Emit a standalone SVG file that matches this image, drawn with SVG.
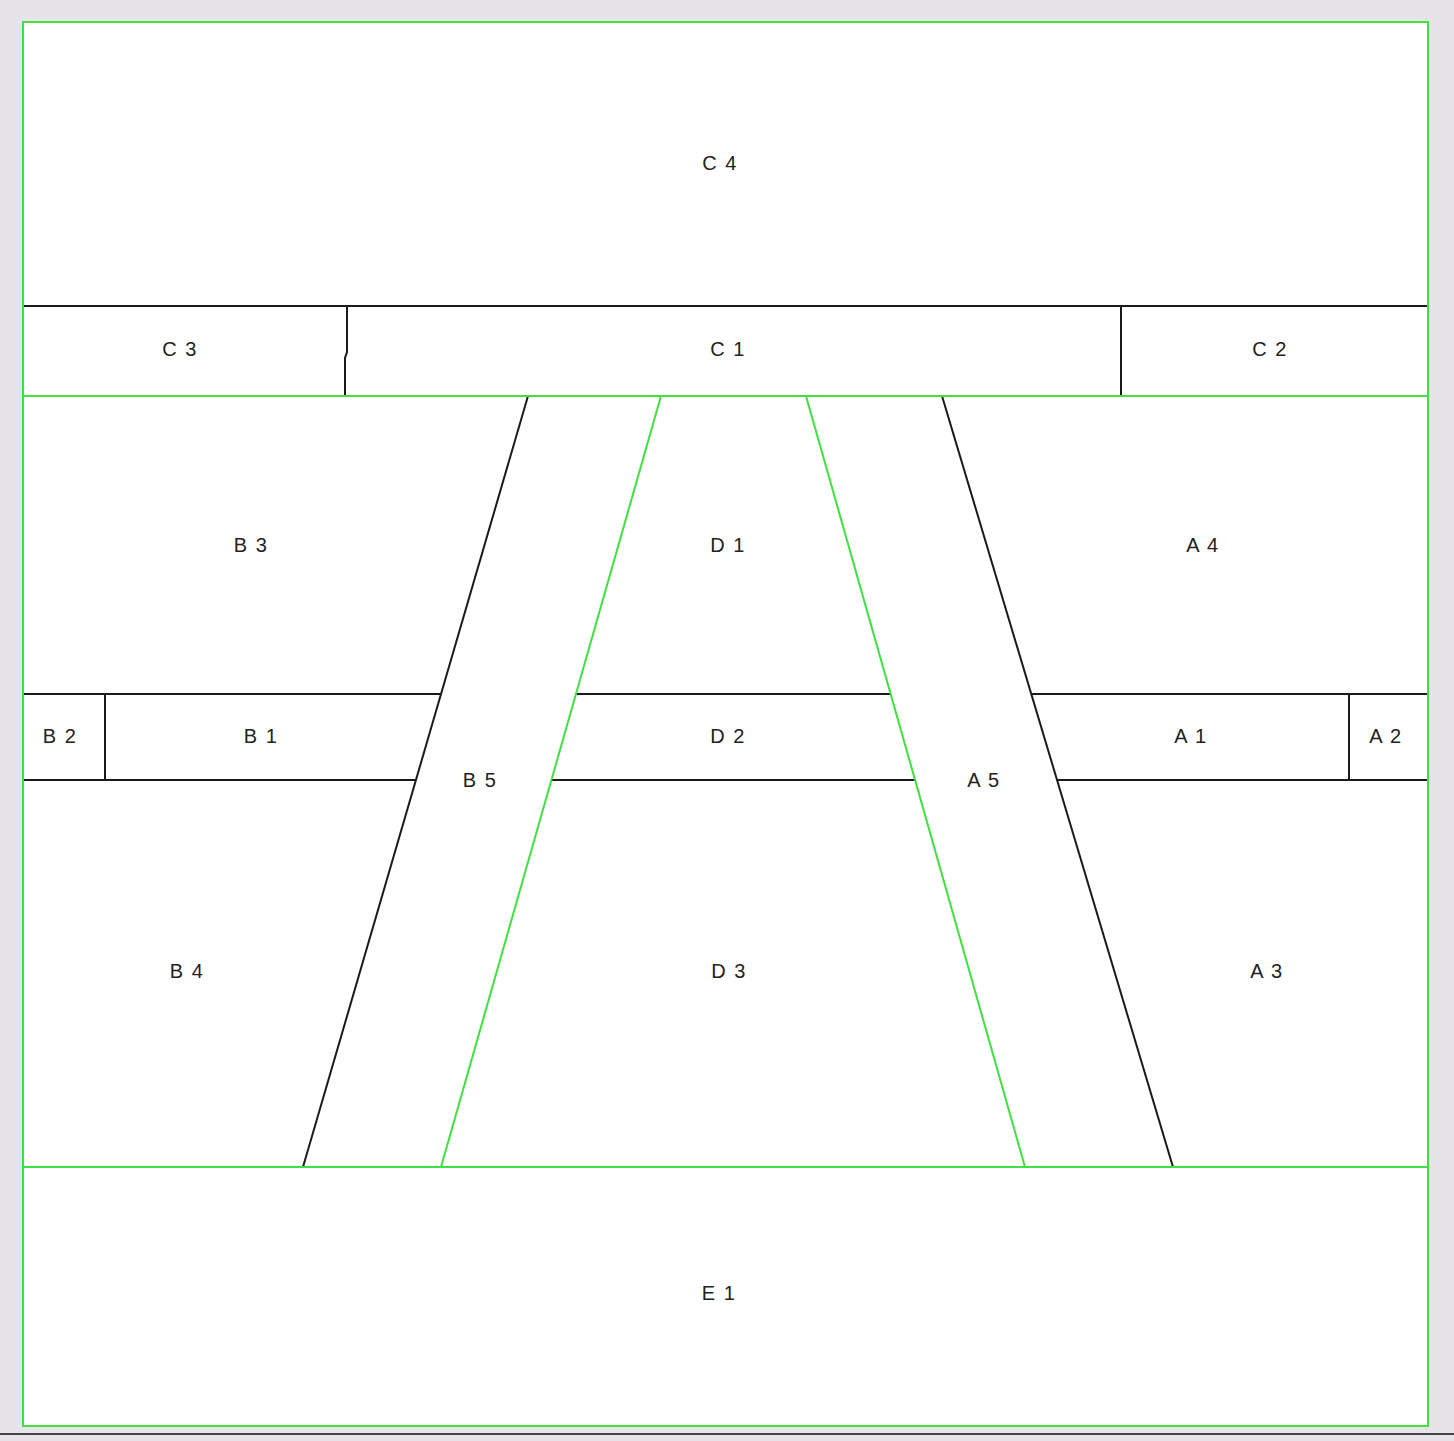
<svg xmlns="http://www.w3.org/2000/svg" width="1454" height="1441" viewBox="0 0 1454 1441">
<style>
.k{stroke:#1a1a1a;stroke-width:2;fill:none}
.g{stroke:#3fe03f;stroke-width:2;fill:none}
text{font-family:"Liberation Sans",Arial,sans-serif;font-size:20px;fill:#222;text-anchor:middle;dominant-baseline:central;letter-spacing:1.5px}
</style>
<rect x="0" y="0" width="1454" height="1441" fill="#e6e4e8"/>
<rect x="23" y="22" width="1405" height="1404" fill="#ffffff"/>
<line x1="0" y1="1434" x2="1454" y2="1434" stroke="#444" stroke-width="2"/>
<g id="lines">
<line class="k" x1="23" y1="306" x2="1428" y2="306"/>
<polyline class="k" points="347,306 347,352 345,358 345,396"/>
<line class="k" x1="1121" y1="306" x2="1121" y2="396"/>
<line class="k" x1="23" y1="694" x2="441" y2="694"/>
<line class="k" x1="576" y1="694" x2="890" y2="694"/>
<line class="k" x1="1031" y1="694" x2="1428" y2="694"/>
<line class="k" x1="23" y1="780" x2="416" y2="780"/>
<line class="k" x1="551" y1="780" x2="915" y2="780"/>
<line class="k" x1="1057" y1="780" x2="1428" y2="780"/>
<line class="k" x1="105" y1="694" x2="105" y2="780"/>
<line class="k" x1="1349" y1="694" x2="1349" y2="780"/>
<line class="k" x1="528" y1="396" x2="303" y2="1167"/>
<line class="k" x1="942" y1="396" x2="1173" y2="1167"/>
<line class="g" x1="661" y1="396" x2="441" y2="1167"/>
<line class="g" x1="806" y1="396" x2="1025" y2="1167"/>
<line class="g" x1="23" y1="396" x2="1428" y2="396"/>
<line class="g" x1="23" y1="1167" x2="1428" y2="1167"/>
<rect class="g" x="23" y="22" width="1405" height="1404"/>
</g>
<g id="C4"><text x="720" y="163">C 4</text></g>
<g id="C3"><text x="180" y="349">C 3</text></g>
<g id="C1"><text x="728" y="349">C 1</text></g>
<g id="C2"><text x="1270" y="349">C 2</text></g>
<g id="B3"><text x="251" y="545">B 3</text></g>
<g id="D1"><text x="728" y="545">D 1</text></g>
<g id="A4"><text x="1203" y="545">A 4</text></g>
<g id="B2"><text x="60" y="736">B 2</text></g>
<g id="B1"><text x="261" y="736">B 1</text></g>
<g id="D2"><text x="728" y="736">D 2</text></g>
<g id="A1"><text x="1191" y="736">A 1</text></g>
<g id="A2"><text x="1386" y="736">A 2</text></g>
<g id="B5"><text x="480" y="780">B 5</text></g>
<g id="A5"><text x="984" y="780">A 5</text></g>
<g id="B4"><text x="187" y="971">B 4</text></g>
<g id="D3"><text x="729" y="971">D 3</text></g>
<g id="A3"><text x="1267" y="971">A 3</text></g>
<g id="E1"><text x="719" y="1293">E 1</text></g>
</svg>
